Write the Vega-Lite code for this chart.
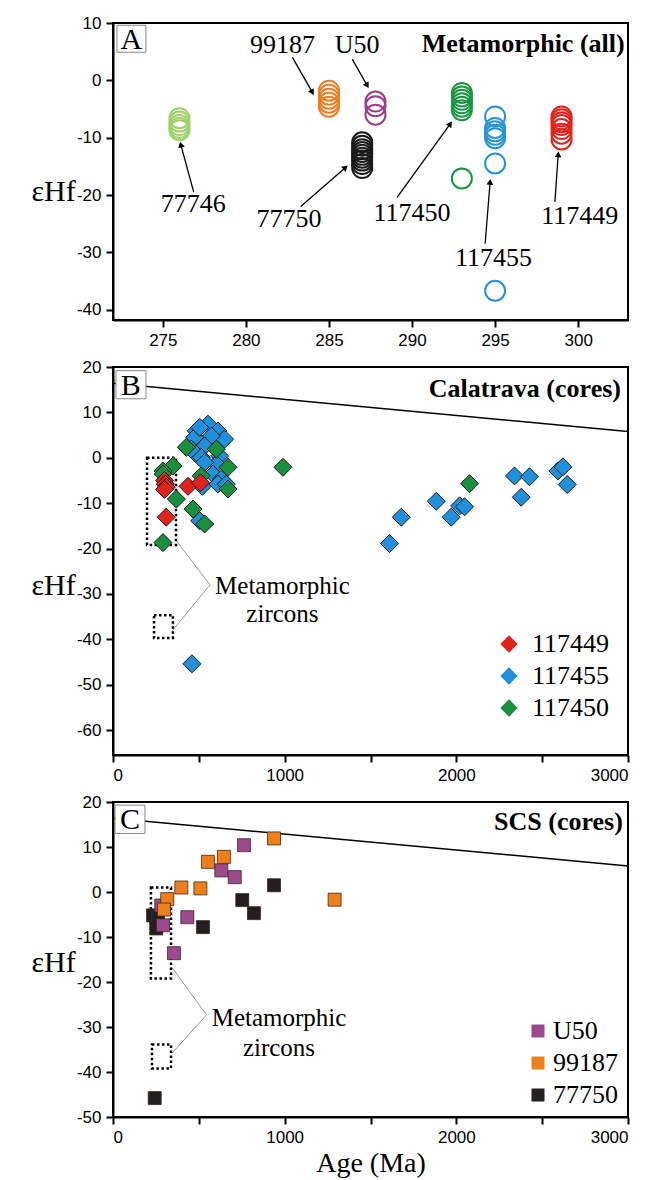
{
  "$schema": "https://vega.github.io/schema/vega-lite/v6.json",
  "background": "white",
  "padding": {"left": 29, "top": 13, "right": 2, "bottom": 2},
  "spacing": 47,
  "bounds": "flush",
  "datasets": {
    "apts": [
      {"sample": "77746", "age": 276, "ehf": -6.6}, {"sample": "77746", "age": 276, "ehf": -7.2}, {"sample": "77746", "age": 276, "ehf": -7.8}, {"sample": "77746", "age": 276, "ehf": -8.3}, {"sample": "77746", "age": 276, "ehf": -8.7},
      {"sample": "99187", "age": 285, "ehf": -1.8}, {"sample": "99187", "age": 285, "ehf": -2.5}, {"sample": "99187", "age": 285, "ehf": -3.2}, {"sample": "99187", "age": 285, "ehf": -3.9}, {"sample": "99187", "age": 285, "ehf": -4.6},
      {"sample": "U50", "age": 287.8, "ehf": -3.7}, {"sample": "U50", "age": 287.8, "ehf": -4.5}, {"sample": "U50", "age": 287.8, "ehf": -6.0},
      {"sample": "77750", "age": 287, "ehf": -10.8}, {"sample": "77750", "age": 287, "ehf": -11.4}, {"sample": "77750", "age": 287, "ehf": -12.0}, {"sample": "77750", "age": 287, "ehf": -12.5}, {"sample": "77750", "age": 287, "ehf": -13.0}, {"sample": "77750", "age": 287, "ehf": -13.5}, {"sample": "77750", "age": 287, "ehf": -14.0}, {"sample": "77750", "age": 287, "ehf": -14.6}, {"sample": "77750", "age": 287, "ehf": -15.3},
      {"sample": "117450", "age": 293, "ehf": -2.2}, {"sample": "117450", "age": 293, "ehf": -2.8}, {"sample": "117450", "age": 293, "ehf": -3.4}, {"sample": "117450", "age": 293, "ehf": -4.0}, {"sample": "117450", "age": 293, "ehf": -4.6}, {"sample": "117450", "age": 293, "ehf": -5.2}, {"sample": "117450", "age": 293, "ehf": -17.1},
      {"sample": "117455", "age": 295, "ehf": -6.3}, {"sample": "117455", "age": 295, "ehf": -8.3}, {"sample": "117455", "age": 295, "ehf": -8.9}, {"sample": "117455", "age": 295, "ehf": -9.5}, {"sample": "117455", "age": 295, "ehf": -10.1}, {"sample": "117455", "age": 295, "ehf": -14.5}, {"sample": "117455", "age": 295, "ehf": -36.7},
      {"sample": "117449", "age": 299, "ehf": -6.3}, {"sample": "117449", "age": 299, "ehf": -6.8}, {"sample": "117449", "age": 299, "ehf": -7.3}, {"sample": "117449", "age": 299, "ehf": -7.8}, {"sample": "117449", "age": 299, "ehf": -8.5}, {"sample": "117449", "age": 299, "ehf": -9.3}, {"sample": "117449", "age": 299, "ehf": -10.3}
    ],
    "alabels": [
      {"label": "77746", "age": 276.83, "ehf": -21.6},
      {"label": "99187", "age": 282.2, "ehf": 6.1},
      {"label": "U50", "age": 286.7, "ehf": 6.1},
      {"label": "77750", "age": 282.6, "ehf": -24.1},
      {"label": "117450", "age": 290.0, "ehf": -23.2},
      {"label": "117455", "age": 294.9, "ehf": -31.0},
      {"label": "117449", "age": 300.1, "ehf": -23.6}
    ],
    "aarrows": [
      {"age": 276.86, "ehf": -19.5, "age2": 276.08, "ehf2": -11.2},
      {"age": 282.8, "ehf": 4.0, "age2": 284.0, "ehf2": -2.1},
      {"age": 286.4, "ehf": 3.7, "age2": 287.3, "ehf2": -0.9},
      {"age": 283.3, "ehf": -22.0, "age2": 286.0, "ehf2": -15.2},
      {"age": 289.1, "ehf": -20.4, "age2": 292.3, "ehf2": -7.6},
      {"age": 294.4, "ehf": -28.5, "age2": 294.7, "ehf2": -17.7},
      {"age": 298.6, "ehf": -21.2, "age2": 298.8, "ehf2": -12.9}
    ],
    "bpts": [
      {"sample": "117455", "age": 553, "ehf": 7.4}, {"sample": "117455", "age": 485, "ehf": 5.9}, {"sample": "117455", "age": 611, "ehf": 5.9}, {"sample": "117455", "age": 650, "ehf": 4.1}, {"sample": "117455", "age": 476, "ehf": 4.5}, {"sample": "117455", "age": 505, "ehf": 6.7}, {"sample": "117455", "age": 573, "ehf": 4.8}, {"sample": "117455", "age": 534, "ehf": 2.6}, {"sample": "117455", "age": 456, "ehf": 1.9}, {"sample": "117455", "age": 485, "ehf": 0.8}, {"sample": "117455", "age": 621, "ehf": 0.4}, {"sample": "117455", "age": 514, "ehf": 0.1}, {"sample": "117455", "age": 602, "ehf": -1.4}, {"sample": "117455", "age": 534, "ehf": -1.0}, {"sample": "117455", "age": 582, "ehf": -3.6}, {"sample": "117455", "age": 631, "ehf": -4.7}, {"sample": "117455", "age": 611, "ehf": -5.8}, {"sample": "117455", "age": 660, "ehf": -5.8}, {"sample": "117455", "age": 520, "ehf": -6.3}, {"sample": "117455", "age": 505, "ehf": -13.9}, {"sample": "117455", "age": 460, "ehf": -45.4},
      {"sample": "117455", "age": 1611, "ehf": -18.9}, {"sample": "117455", "age": 1679, "ehf": -13.1}, {"sample": "117455", "age": 1883, "ehf": -9.6}, {"sample": "117455", "age": 1970, "ehf": -13.1}, {"sample": "117455", "age": 2019, "ehf": -10.6}, {"sample": "117455", "age": 2048, "ehf": -10.8}, {"sample": "117455", "age": 2339, "ehf": -4.0}, {"sample": "117455", "age": 2426, "ehf": -4.2}, {"sample": "117455", "age": 2378, "ehf": -8.7}, {"sample": "117455", "age": 2592, "ehf": -2.9}, {"sample": "117455", "age": 2621, "ehf": -2.0}, {"sample": "117455", "age": 2646, "ehf": -5.9},
      {"sample": "117450", "age": 602, "ehf": 1.9}, {"sample": "117450", "age": 427, "ehf": 2.3}, {"sample": "117450", "age": 670, "ehf": -2.1}, {"sample": "117450", "age": 350, "ehf": -1.8}, {"sample": "117450", "age": 291, "ehf": -2.9}, {"sample": "117450", "age": 514, "ehf": -4.0}, {"sample": "117450", "age": 291, "ehf": -3.6}, {"sample": "117450", "age": 670, "ehf": -6.9}, {"sample": "117450", "age": 369, "ehf": -9.1}, {"sample": "117450", "age": 466, "ehf": -11.3}, {"sample": "117450", "age": 534, "ehf": -14.6}, {"sample": "117450", "age": 291, "ehf": -18.7}, {"sample": "117450", "age": 990, "ehf": -2.1}, {"sample": "117450", "age": 2077, "ehf": -5.7},
      {"sample": "117449", "age": 300, "ehf": -5.0}, {"sample": "117449", "age": 305, "ehf": -5.8}, {"sample": "117449", "age": 310, "ehf": -6.5}, {"sample": "117449", "age": 300, "ehf": -7.0}, {"sample": "117449", "age": 437, "ehf": -6.3}, {"sample": "117449", "age": 510, "ehf": -5.5}, {"sample": "117449", "age": 310, "ehf": -13.1}
    ],
    "cpts": [
      {"sample": "77750", "age": 938, "ehf": 1.5}, {"sample": "77750", "age": 753, "ehf": -1.8}, {"sample": "77750", "age": 821, "ehf": -4.7}, {"sample": "77750", "age": 524, "ehf": -7.8}, {"sample": "77750", "age": 233, "ehf": -5.2}, {"sample": "77750", "age": 262, "ehf": -5.6}, {"sample": "77750", "age": 252, "ehf": -8.1}, {"sample": "77750", "age": 243, "ehf": -45.8},
      {"sample": "U50", "age": 763, "ehf": 10.4}, {"sample": "U50", "age": 631, "ehf": 4.8}, {"sample": "U50", "age": 709, "ehf": 3.3}, {"sample": "U50", "age": 281, "ehf": -3.0}, {"sample": "U50", "age": 433, "ehf": -5.6}, {"sample": "U50", "age": 291, "ehf": -7.4}, {"sample": "U50", "age": 355, "ehf": -13.6},
      {"sample": "99187", "age": 938, "ehf": 11.9}, {"sample": "99187", "age": 646, "ehf": 7.8}, {"sample": "99187", "age": 553, "ehf": 6.7}, {"sample": "99187", "age": 398, "ehf": 1.0}, {"sample": "99187", "age": 509, "ehf": 0.8}, {"sample": "99187", "age": 316, "ehf": -1.6}, {"sample": "99187", "age": 297, "ehf": -3.9}, {"sample": "99187", "age": 1291, "ehf": -1.7}
    ],
    "dm": [{"age": 0, "ehf": 16.4}, {"age": 3000, "ehf": 5.8}],
    "bbrack": [
      {"age": 361, "ehf": -17.9, "age2": 565, "ehf2": -28.0},
      {"age": 565, "ehf": -28.0, "age2": 344, "ehf2": -38.2}
    ],
    "bboxes": [
      {"age": 198, "age2": 367, "ehf": 0, "ehf2": -19.2},
      {"age": 239, "age2": 349, "ehf": -34.7, "ehf2": -39.7}
    ],
    "btext": [
      {"label": "Metamorphic", "age": 987, "ehf": -28.2},
      {"label": "zircons", "age": 987, "ehf": -34.4}
    ],
    "cbrack": [
      {"age": 344, "ehf": -16.8, "age2": 545, "ehf2": -27.3},
      {"age": 545, "ehf": -27.3, "age2": 344, "ehf2": -35.8}
    ],
    "cboxes": [
      {"age": 221, "age2": 338, "ehf": 1.0, "ehf2": -19.2},
      {"age": 227, "age2": 338, "ehf": -33.9, "ehf2": -39.2}
    ],
    "ctext": [
      {"label": "Metamorphic", "age": 967, "ehf": -28.1},
      {"label": "zircons", "age": 967, "ehf": -34.7}
    ]
  },
  "vconcat": [
    {
      "width": 515,
      "height": 297,
      "layer": [
        {
          "mark": {"type": "rule", "color": "black", "strokeWidth": 1.5},
          "encoding": {"y": {"datum": 0, "type": "quantitative"}}
        },
        {
          "data": {"name": "apts"},
          "mark": {"type": "point", "shape": "circle", "filled": false, "size": 400, "strokeWidth": 2, "opacity": 1},
          "encoding": {
            "x": {"field": "age", "type": "quantitative", "title": null,
                  "scale": {"domain": [272, 303], "nice": false, "zero": false},
                  "axis": {"values": [275, 280, 285, 290, 295, 300], "format": "d"}},
            "y": {"field": "ehf", "type": "quantitative", "title": "εHf",
                  "scale": {"domain": [-41.8, 10], "nice": false, "zero": false},
                  "axis": {"values": [-40, -30, -20, -10, 0, 10], "format": "d", "titleY": 168}},
            "color": {"field": "sample", "type": "nominal", "legend": null,
                      "scale": {"domain": ["77746", "99187", "U50", "77750", "117450", "117455", "117449"],
                                "range": ["#a3d16b", "#f07e1e", "#9a3e89", "#1a1a1a", "#1a9641", "#2493dc", "#e3221c"]}}
          }
        },
        {
          "data": {"name": "aarrows"},
          "mark": {"type": "rule", "color": "black", "strokeWidth": 1.3},
          "encoding": {
            "x": {"field": "age", "type": "quantitative"},
            "y": {"field": "ehf", "type": "quantitative"},
            "x2": {"field": "age2"},
            "y2": {"field": "ehf2"}
          }
        },
        {
          "data": {"name": "aarrows"},
          "transform": [{"calculate": "atan2((datum.age2-datum.age)*16.65,(datum.ehf2-datum.ehf)*5.73)*180/PI", "as": "ang"}],
          "mark": {"type": "point", "shape": "triangle-up", "filled": true, "size": 45, "color": "black", "opacity": 1},
          "encoding": {
            "x": {"field": "age2", "type": "quantitative"},
            "y": {"field": "ehf2", "type": "quantitative"},
            "angle": {"field": "ang", "type": "quantitative", "scale": null}
          }
        },
        {
          "data": {"name": "alabels"},
          "mark": {"type": "text", "font": "Liberation Serif", "fontSize": 26, "color": "black", "baseline": "middle", "align": "center"},
          "encoding": {
            "x": {"field": "age", "type": "quantitative"},
            "y": {"field": "ehf", "type": "quantitative"},
            "text": {"field": "label"}
          }
        },
        {
          "data": {"values": [{"label": "Metamorphic (all)", "age": 302.8, "ehf": 6.4}]},
          "mark": {"type": "text", "font": "Liberation Serif", "fontSize": 26, "fontWeight": "bold", "color": "black", "baseline": "middle", "align": "right"},
          "encoding": {
            "x": {"field": "age", "type": "quantitative"},
            "y": {"field": "ehf", "type": "quantitative"},
            "text": {"field": "label"}
          }
        },
        {
          "data": {"values": [{"age": 272.24, "age2": 273.98, "ehf": 9.6, "ehf2": 4.9}]},
          "mark": {"type": "rect", "fill": "white", "stroke": "#888", "strokeWidth": 1},
          "encoding": {
            "x": {"field": "age", "type": "quantitative"},
            "x2": {"field": "age2"},
            "y": {"field": "ehf", "type": "quantitative"},
            "y2": {"field": "ehf2"}
          }
        },
        {
          "data": {"values": [{"label": "A", "age": 273.11, "ehf": 7.0}]},
          "mark": {"type": "text", "font": "Liberation Serif", "fontSize": 30, "color": "black", "baseline": "middle", "align": "center"},
          "encoding": {
            "x": {"field": "age", "type": "quantitative"},
            "y": {"field": "ehf", "type": "quantitative"},
            "text": {"field": "label"}
          }
        }
      ]
    },
    {
      "width": 515,
      "height": 388,
      "layer": [
        {
          "mark": {"type": "rule", "color": "black", "strokeWidth": 1.5},
          "encoding": {"y": {"datum": 0, "type": "quantitative"}}
        },
        {
          "data": {"name": "dm"},
          "mark": {"type": "line", "color": "black", "strokeWidth": 1.5},
          "encoding": {
            "x": {"field": "age", "type": "quantitative"},
            "y": {"field": "ehf", "type": "quantitative"}
          }
        },
        {
          "data": {"name": "bbrack"},
          "mark": {"type": "rule", "color": "#9a9a9a", "strokeWidth": 1},
          "encoding": {
            "x": {"field": "age", "type": "quantitative"},
            "y": {"field": "ehf", "type": "quantitative"},
            "x2": {"field": "age2"},
            "y2": {"field": "ehf2"}
          }
        },
        {
          "data": {"name": "bboxes"},
          "mark": {"type": "rect", "fill": null, "fillOpacity": 0, "stroke": "black", "strokeWidth": 2.5, "strokeDash": [2.5, 2.5]},
          "encoding": {
            "x": {"field": "age", "type": "quantitative"},
            "x2": {"field": "age2"},
            "y": {"field": "ehf", "type": "quantitative"},
            "y2": {"field": "ehf2"}
          }
        },
        {
          "data": {"name": "bpts"},
          "mark": {"type": "point", "shape": "diamond", "filled": true, "size": 324, "stroke": "#1a1a1a", "strokeWidth": 1, "opacity": 1},
          "encoding": {
            "x": {"field": "age", "type": "quantitative", "title": null,
                  "scale": {"domain": [0, 3000], "nice": false, "zero": false},
                  "axis": {"values": [0, 500, 1000, 1500, 2000, 2500, 3000], "format": "d", "labelExpr": "datum.value % 1000 === 0 ? datum.label : ''"}},
            "y": {"field": "ehf", "type": "quantitative", "title": "εHf",
                  "scale": {"domain": [-65.5, 20], "nice": false, "zero": false},
                  "axis": {"values": [-60, -50, -40, -30, -20, -10, 0, 10, 20], "format": "d", "titleY": 218}},
            "color": {"field": "sample", "type": "nominal",
                      "scale": {"domain": ["117449", "117455", "117450"], "range": ["#e3221c", "#1e90dc", "#17913f"]},
                      "legend": {"orient": "none", "legendX": 383, "legendY": 264, "title": null, "padding": 0,
                                 "labelFont": "Liberation Serif", "labelFontSize": 26, "labelColor": "black",
                                 "symbolType": "diamond", "symbolSize": 300, "symbolStrokeWidth": 0, "symbolOpacity": 1,
                                 "rowPadding": 6, "labelOffset": 10}}
          }
        },
        {
          "data": {"name": "btext"},
          "mark": {"type": "text", "font": "Liberation Serif", "fontSize": 25, "color": "black", "baseline": "middle", "align": "center"},
          "encoding": {
            "x": {"field": "age", "type": "quantitative"},
            "y": {"field": "ehf", "type": "quantitative"},
            "text": {"field": "label"}
          }
        },
        {
          "data": {"values": [{"label": "Calatrava (cores)", "age": 2959, "ehf": 15.2}]},
          "mark": {"type": "text", "font": "Liberation Serif", "fontSize": 26, "fontWeight": "bold", "color": "black", "baseline": "middle", "align": "right"},
          "encoding": {
            "x": {"field": "age", "type": "quantitative"},
            "y": {"field": "ehf", "type": "quantitative"},
            "text": {"field": "label"}
          }
        },
        {
          "data": {"values": [{"age": 17, "age2": 192, "ehf": 19.2, "ehf2": 13.0}]},
          "mark": {"type": "rect", "fill": "white", "stroke": "#888", "strokeWidth": 1},
          "encoding": {
            "x": {"field": "age", "type": "quantitative"},
            "x2": {"field": "age2"},
            "y": {"field": "ehf", "type": "quantitative"},
            "y2": {"field": "ehf2"}
          }
        },
        {
          "data": {"values": [{"label": "B", "age": 104, "ehf": 15.9}]},
          "mark": {"type": "text", "font": "Liberation Serif", "fontSize": 30, "color": "black", "baseline": "middle", "align": "center"},
          "encoding": {
            "x": {"field": "age", "type": "quantitative"},
            "y": {"field": "ehf", "type": "quantitative"},
            "text": {"field": "label"}
          }
        }
      ]
    },
    {
      "width": 515,
      "height": 315,
      "layer": [
        {
          "mark": {"type": "rule", "color": "#a0a0a0", "strokeWidth": 1.5},
          "encoding": {"y": {"datum": 0, "type": "quantitative"}}
        },
        {
          "data": {"name": "dm"},
          "mark": {"type": "line", "color": "black", "strokeWidth": 1.5},
          "encoding": {
            "x": {"field": "age", "type": "quantitative"},
            "y": {"field": "ehf", "type": "quantitative"}
          }
        },
        {
          "data": {"name": "cbrack"},
          "mark": {"type": "rule", "color": "#9a9a9a", "strokeWidth": 1},
          "encoding": {
            "x": {"field": "age", "type": "quantitative"},
            "y": {"field": "ehf", "type": "quantitative"},
            "x2": {"field": "age2"},
            "y2": {"field": "ehf2"}
          }
        },
        {
          "data": {"name": "cboxes"},
          "mark": {"type": "rect", "fill": null, "fillOpacity": 0, "stroke": "black", "strokeWidth": 2.5, "strokeDash": [2.5, 2.5]},
          "encoding": {
            "x": {"field": "age", "type": "quantitative"},
            "x2": {"field": "age2"},
            "y": {"field": "ehf", "type": "quantitative"},
            "y2": {"field": "ehf2"}
          }
        },
        {
          "data": {"name": "cpts"},
          "mark": {"type": "point", "shape": "square", "filled": true, "size": 169, "stroke": "#3a2a20", "strokeWidth": 0.8, "opacity": 1},
          "encoding": {
            "x": {"field": "age", "type": "quantitative", "title": "Age (Ma)",
                  "scale": {"domain": [0, 3000], "nice": false, "zero": false},
                  "axis": {"values": [0, 500, 1000, 1500, 2000, 2500, 3000], "format": "d", "labelExpr": "datum.value % 1000 === 0 ? datum.label : ''",
                           "titleFont": "Liberation Serif", "titleFontSize": 28, "titlePadding": 4}},
            "y": {"field": "ehf", "type": "quantitative", "title": "εHf",
                  "scale": {"domain": [-50, 20], "nice": false, "zero": false},
                  "axis": {"values": [-50, -40, -30, -20, -10, 0, 10, 20], "format": "d", "titleY": 160}},
            "color": {"field": "sample", "type": "nominal",
                      "scale": {"domain": ["U50", "99187", "77750"], "range": ["#9c4a8c", "#ef7f1a", "#231f20"]},
                      "legend": {"orient": "none", "legendX": 412, "legendY": 216, "title": null, "padding": 0,
                                 "labelFont": "Liberation Serif", "labelFontSize": 26, "labelColor": "black",
                                 "symbolType": "square", "symbolSize": 169, "symbolStrokeWidth": 0, "symbolOpacity": 1,
                                 "rowPadding": 6, "labelOffset": 2}}
          }
        },
        {
          "data": {"name": "ctext"},
          "mark": {"type": "text", "font": "Liberation Serif", "fontSize": 25, "color": "black", "baseline": "middle", "align": "center"},
          "encoding": {
            "x": {"field": "age", "type": "quantitative"},
            "y": {"field": "ehf", "type": "quantitative"},
            "text": {"field": "label"}
          }
        },
        {
          "data": {"values": [{"label": "SCS (cores)", "age": 2970, "ehf": 15.5}]},
          "mark": {"type": "text", "font": "Liberation Serif", "fontSize": 26, "fontWeight": "bold", "color": "black", "baseline": "middle", "align": "right"},
          "encoding": {
            "x": {"field": "age", "type": "quantitative"},
            "y": {"field": "ehf", "type": "quantitative"},
            "text": {"field": "label"}
          }
        },
        {
          "data": {"values": [{"age": 12, "age2": 186, "ehf": 19.3, "ehf2": 13.0}]},
          "mark": {"type": "rect", "fill": "white", "stroke": "#888", "strokeWidth": 1},
          "encoding": {
            "x": {"field": "age", "type": "quantitative"},
            "x2": {"field": "age2"},
            "y": {"field": "ehf", "type": "quantitative"},
            "y2": {"field": "ehf2"}
          }
        },
        {
          "data": {"values": [{"label": "C", "age": 99, "ehf": 16.0}]},
          "mark": {"type": "text", "font": "Liberation Serif", "fontSize": 30, "color": "black", "baseline": "middle", "align": "center"},
          "encoding": {
            "x": {"field": "age", "type": "quantitative"},
            "y": {"field": "ehf", "type": "quantitative"},
            "text": {"field": "label"}
          }
        }
      ]
    }
  ],
  "resolve": {
    "scale": {"x": "independent", "y": "independent", "color": "independent"},
    "legend": {"color": "independent"}
  },
  "config": {
    "locale": {"number": {"decimal": ".", "thousands": "", "grouping": [3], "currency": ["$", ""], "minus": "-"}},
    "view": {"stroke": "black", "strokeWidth": 2},
    "axis": {
      "domainColor": "black", "domainWidth": 2, "tickColor": "black", "tickWidth": 2, "tickSize": 7,
      "labelFont": "Liberation Sans", "labelFontSize": 17, "labelColor": "black", "labelPadding": 5,
      "grid": false, "titleFont": "Liberation Serif", "titleFontWeight": "normal", "titleColor": "black"
    },
    "axisY": {"titleAngle": 0, "titleFontSize": 30, "titleX": -60, "titleAlign": "center", "titleBaseline": "middle"}
  }
}
